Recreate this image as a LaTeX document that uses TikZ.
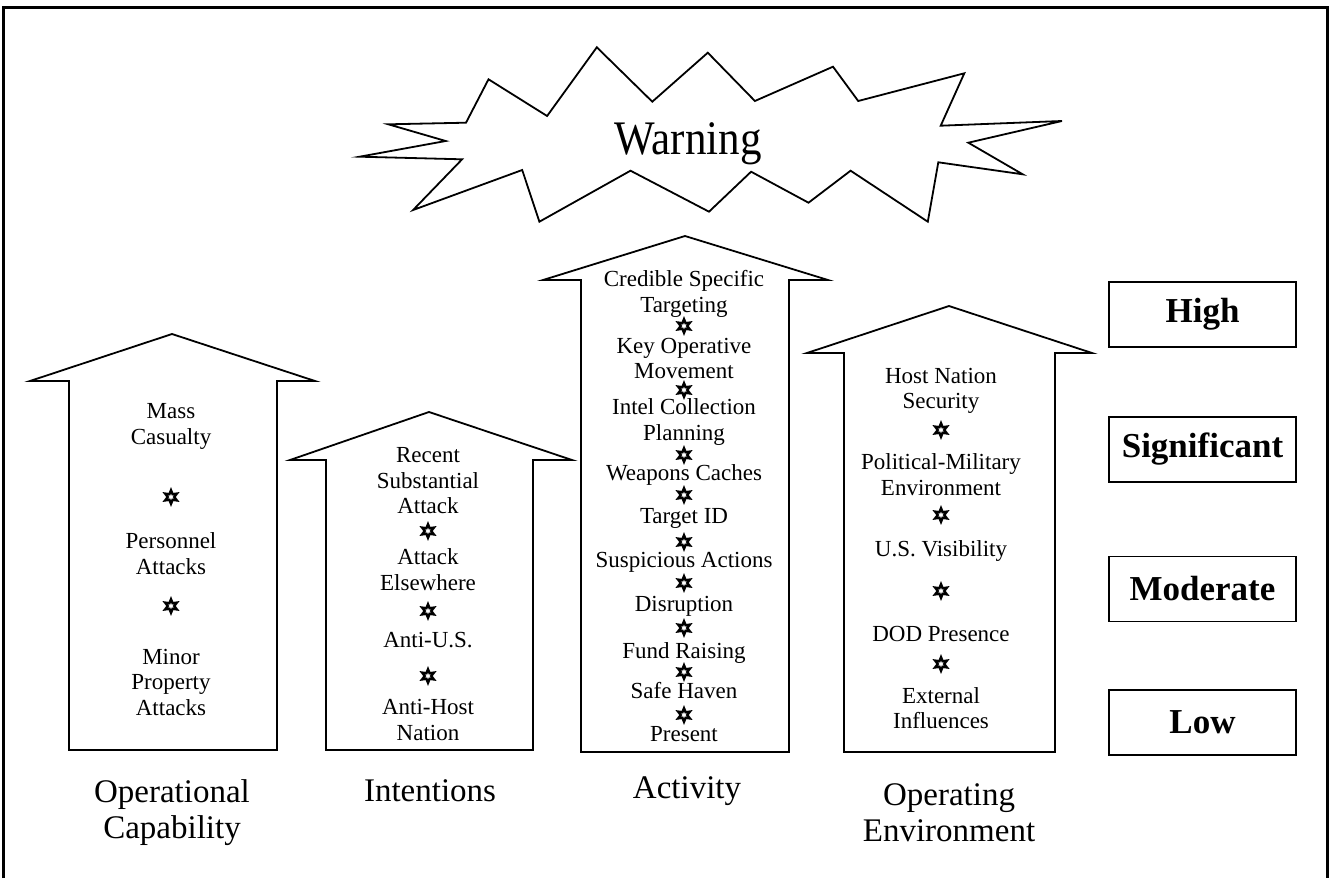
\documentclass[tikz,border=0pt]{standalone}
\usepackage{fontspec}
\usepackage{graphicx}
\setmainfont{Liberation Serif}
\usetikzlibrary{shapes.geometric}
\begin{document}
\begin{tikzpicture}[x=1pt,y=-1pt,
  shapeline/.style={draw=black,line width=1.8pt,line join=miter},
  intext/.style={align=center,inner sep=0pt,font=\fontsize{23}{25.5}\selectfont},
  cattext/.style={align=center,inner sep=0pt,font=\fontsize{33}{36}\selectfont},
  levelbox/.style={draw=black,line width=1.6pt,minimum width=187pt,minimum height=65pt,inner sep=0pt,font=\bfseries\fontsize{35}{38}\selectfont},
  starmark/.style={star,star points=6,star point ratio=2.1,minimum size=13.5pt,inner sep=0pt,draw=black,line width=2.4pt,fill=white}]
\useasboundingbox (0,0) rectangle (1330,878);
% frame (no bottom edge)
\draw[line width=3pt] (3,878) -- (3,7.5) -- (1327,7.5) -- (1327,878);
% burst
\draw[shapeline] (359.6,156.7) -- (445.7,141) -- (388.3,124.3) -- (466,122.7) -- (488.5,79.3)
  -- (547.1,116) -- (596.8,47.3) -- (652.3,101.7) -- (707.8,52.7) -- (754.9,101)
  -- (833,66.7) -- (858.2,101) -- (964.3,73.3) -- (940.7,125.7) -- (1062,121)
  -- (968.3,142.7) -- (1022.7,174.3) -- (938.3,162.3) -- (927.8,221.7) -- (850.6,170.7)
  -- (808.5,202.7) -- (751.1,171.7) -- (709,211.7) -- (630.5,170.7) -- (539.4,221.7)
  -- (522.2,170) -- (413.1,210) -- (462.1,159.3) -- cycle;
\node[anchor=base,inner sep=0pt] (warn) at (688,154) {\scalebox{1}[1.12]{\fontsize{43}{43}\selectfont Warning}};
% arrows
\draw[shapeline] (69,750) -- (69,381) -- (30,381) -- (172,334) -- (315,381) -- (277,381) -- (277,750) -- cycle;
\draw[shapeline] (326,750) -- (326,460) -- (290,460) -- (429,412) -- (572,460) -- (533,460) -- (533,750) -- cycle;
\draw[shapeline] (581,752) -- (581,280) -- (543,280) -- (685,236) -- (828,280) -- (789,280) -- (789,752) -- cycle;
\draw[shapeline] (844,752) -- (844,353) -- (807,353) -- (949,306) -- (1092,353) -- (1055,353) -- (1055,752) -- cycle;
% arrow 1
\node[intext] (a1t1) at (171,426.5) {Mass\\Casualty};
\node[starmark] (a1s1) at (171,497) {};
\node[intext] (a1t2) at (171,553.5) {Personnel\\Attacks};
\node[starmark] (a1s2) at (171,606) {};
\node[intext] (a1t3) at (171,682) {Minor\\Property\\Attacks};
% arrow 2
\node[intext] (a2t1) at (428,481) {Recent\\Substantial\\Attack};
\node[starmark] (a2s1) at (428,531) {};
\node[intext] (a2t2) at (428,569.5) {Attack\\Elsewhere};
\node[starmark] (a2s2) at (428,611) {};
\node[intext] (a2t3) at (428,640) {Anti-U.S.};
\node[starmark] (a2s3) at (428,676) {};
\node[intext] (a2t4) at (428,720) {Anti-Host\\Nation};
% arrow 3
\node[intext] (a3t1) at (684,294) {Credible Specific\\Targeting};
\node[starmark] (a3s1) at (684,326) {};
\node[intext] (a3t2) at (684,358.5) {Key Operative\\Movement};
\node[starmark] (a3s2) at (684,390) {};
\node[intext] (a3t3) at (684,422) {Intel Collection\\Planning};
\node[starmark] (a3s3) at (684,455) {};
\node[intext] (a3t4) at (684,475) {Weapons Caches};
\node[starmark] (a3s4) at (684,495) {};
\node[intext] (a3t5) at (684,518) {Target ID};
\node[starmark] (a3s5) at (684,542) {};
\node[intext] (a3t6) at (684,562) {Suspicious Actions};
\node[starmark] (a3s6) at (684,583) {};
\node[intext] (a3t7) at (684,606) {Disruption};
\node[starmark] (a3s7) at (684,628) {};
\node[intext] (a3t8) at (684,653) {Fund Raising};
\node[starmark] (a3s8) at (684,672) {};
\node[intext] (a3t9) at (684,691) {Safe Haven};
\node[starmark] (a3s9) at (684,715) {};
\node[intext] (a3t10) at (684,734) {Present};
% arrow 4
\node[intext] (a4t1) at (941,391) {Host Nation\\Security};
\node[starmark] (a4s1) at (941,430) {};
\node[intext] (a4t2) at (941,474.5) {Political-Military\\Environment};
\node[starmark] (a4s2) at (941,515) {};
\node[intext] (a4t3) at (941,551) {U.S. Visibility};
\node[starmark] (a4s3) at (941,591) {};
\node[intext] (a4t4) at (941,634) {DOD Presence};
\node[starmark] (a4s4) at (941,664) {};
\node[intext] (a4t5) at (941,708) {External\\Influences};
% category labels
\node[cattext] (c1) at (172,813) {Operational\\Capability};
\node[cattext] (c2) at (430,791) {Intentions};
\node[cattext] (c3) at (687,791) {Activity};
\node[cattext] (c4) at (949,813) {Operating\\Environment};
% level boxes
\node[levelbox] (high) at (1202.5,314.5) {High};
\node[levelbox] (sig) at (1202.5,449.5) {Significant};
\node[levelbox] (mod) at (1202.5,589) {Moderate};
\node[levelbox] (low) at (1202.5,722.5) {Low};
\end{tikzpicture}
\end{document}
